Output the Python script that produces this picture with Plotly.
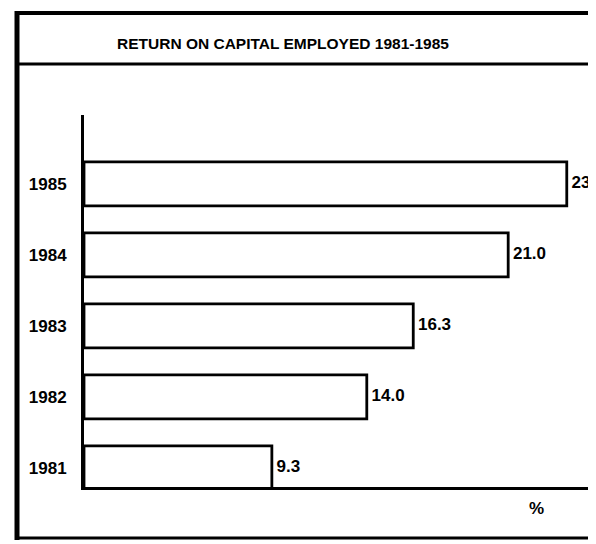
import plotly.graph_objects as go

years = ["1981", "1982", "1983", "1984", "1985"]
values = [9.3, 14.0, 16.3, 21.0, 23.9]
value_labels = ["9.3", "14.0", "16.3", "21.0", "23.9"]
title_text = "RETURN ON CAPITAL EMPLOYED 1981-1985"
unit_text = "%"

OFF = 8  # default page body margin
W, H = 596 - OFF, 544 - OFF
FONT = "Liberation Sans, Arial, sans-serif"

def py(p):
    return 1 - (p - OFF) / H

def px(p):
    return (p - OFF) / W

fig = go.Figure()
fig.add_trace(go.Bar(
    y=years, x=values, orientation="h",
    marker=dict(color="white", line=dict(color="black", width=2.8)),
    width=0.62, showlegend=False, hoverinfo="skip",
))
fig.add_trace(go.Scatter(
    y=years, x=values, mode="text", text=["\u00a0<b>" + t + "</b>" for t in value_labels],
    textposition="middle right", cliponaxis=False, showlegend=False, hoverinfo="skip",
    textfont=dict(family=FONT, size=17, color="black"),
))

# frame decoration
shapes = [
    dict(type="line", xref="paper", yref="paper", x0=px(17), x1=1.0, y0=py(13), y1=py(13),
         line=dict(color="black", width=4)),
    dict(type="line", xref="paper", yref="paper", x0=px(17), x1=1.0, y0=py(64), y1=py(64),
         line=dict(color="black", width=3)),
    dict(type="line", xref="paper", yref="paper", x0=px(17), x1=1.0, y0=py(538), y1=py(538),
         line=dict(color="black", width=3)),
    dict(type="line", xref="paper", yref="paper", x0=px(17), x1=px(17), y0=py(11), y1=py(540),
         line=dict(color="black", width=5)),
]

fig.add_annotation(x=px(283), y=py(43), xref="paper", yref="paper", text="<b>" + title_text + "</b>",
                   showarrow=False, xanchor="center", yanchor="middle",
                   font=dict(family=FONT, size=15.5, color="black"))
fig.add_annotation(x=px(546), y=py(520), xref="paper", yref="paper", text="<b>" + unit_text + "</b>",
                   showarrow=False, font=dict(family=FONT, size=17, color="black"))

fig.update_layout(
    width=W, height=H,
    margin=dict(l=0, r=0, t=0, b=0),
    paper_bgcolor="white", plot_bgcolor="white",
    shapes=shapes,
    xaxis=dict(domain=[px(84), px(590)], range=[0, 25.05], showgrid=False, zeroline=False,
               showticklabels=False, ticks="", showline=True, linecolor="black", linewidth=3),
    yaxis=dict(domain=[py(487), py(115)], type="category", range=[-0.27, 4.97],
               showgrid=False, zeroline=False, showline=True, linecolor="black", linewidth=3,
               ticks="", ticklabelstandoff=11,
               tickfont=dict(family=FONT, size=17, color="black")),
)
fig.update_yaxes(tickprefix="<b>", ticksuffix="</b>")

fig.write_html("out.html")
